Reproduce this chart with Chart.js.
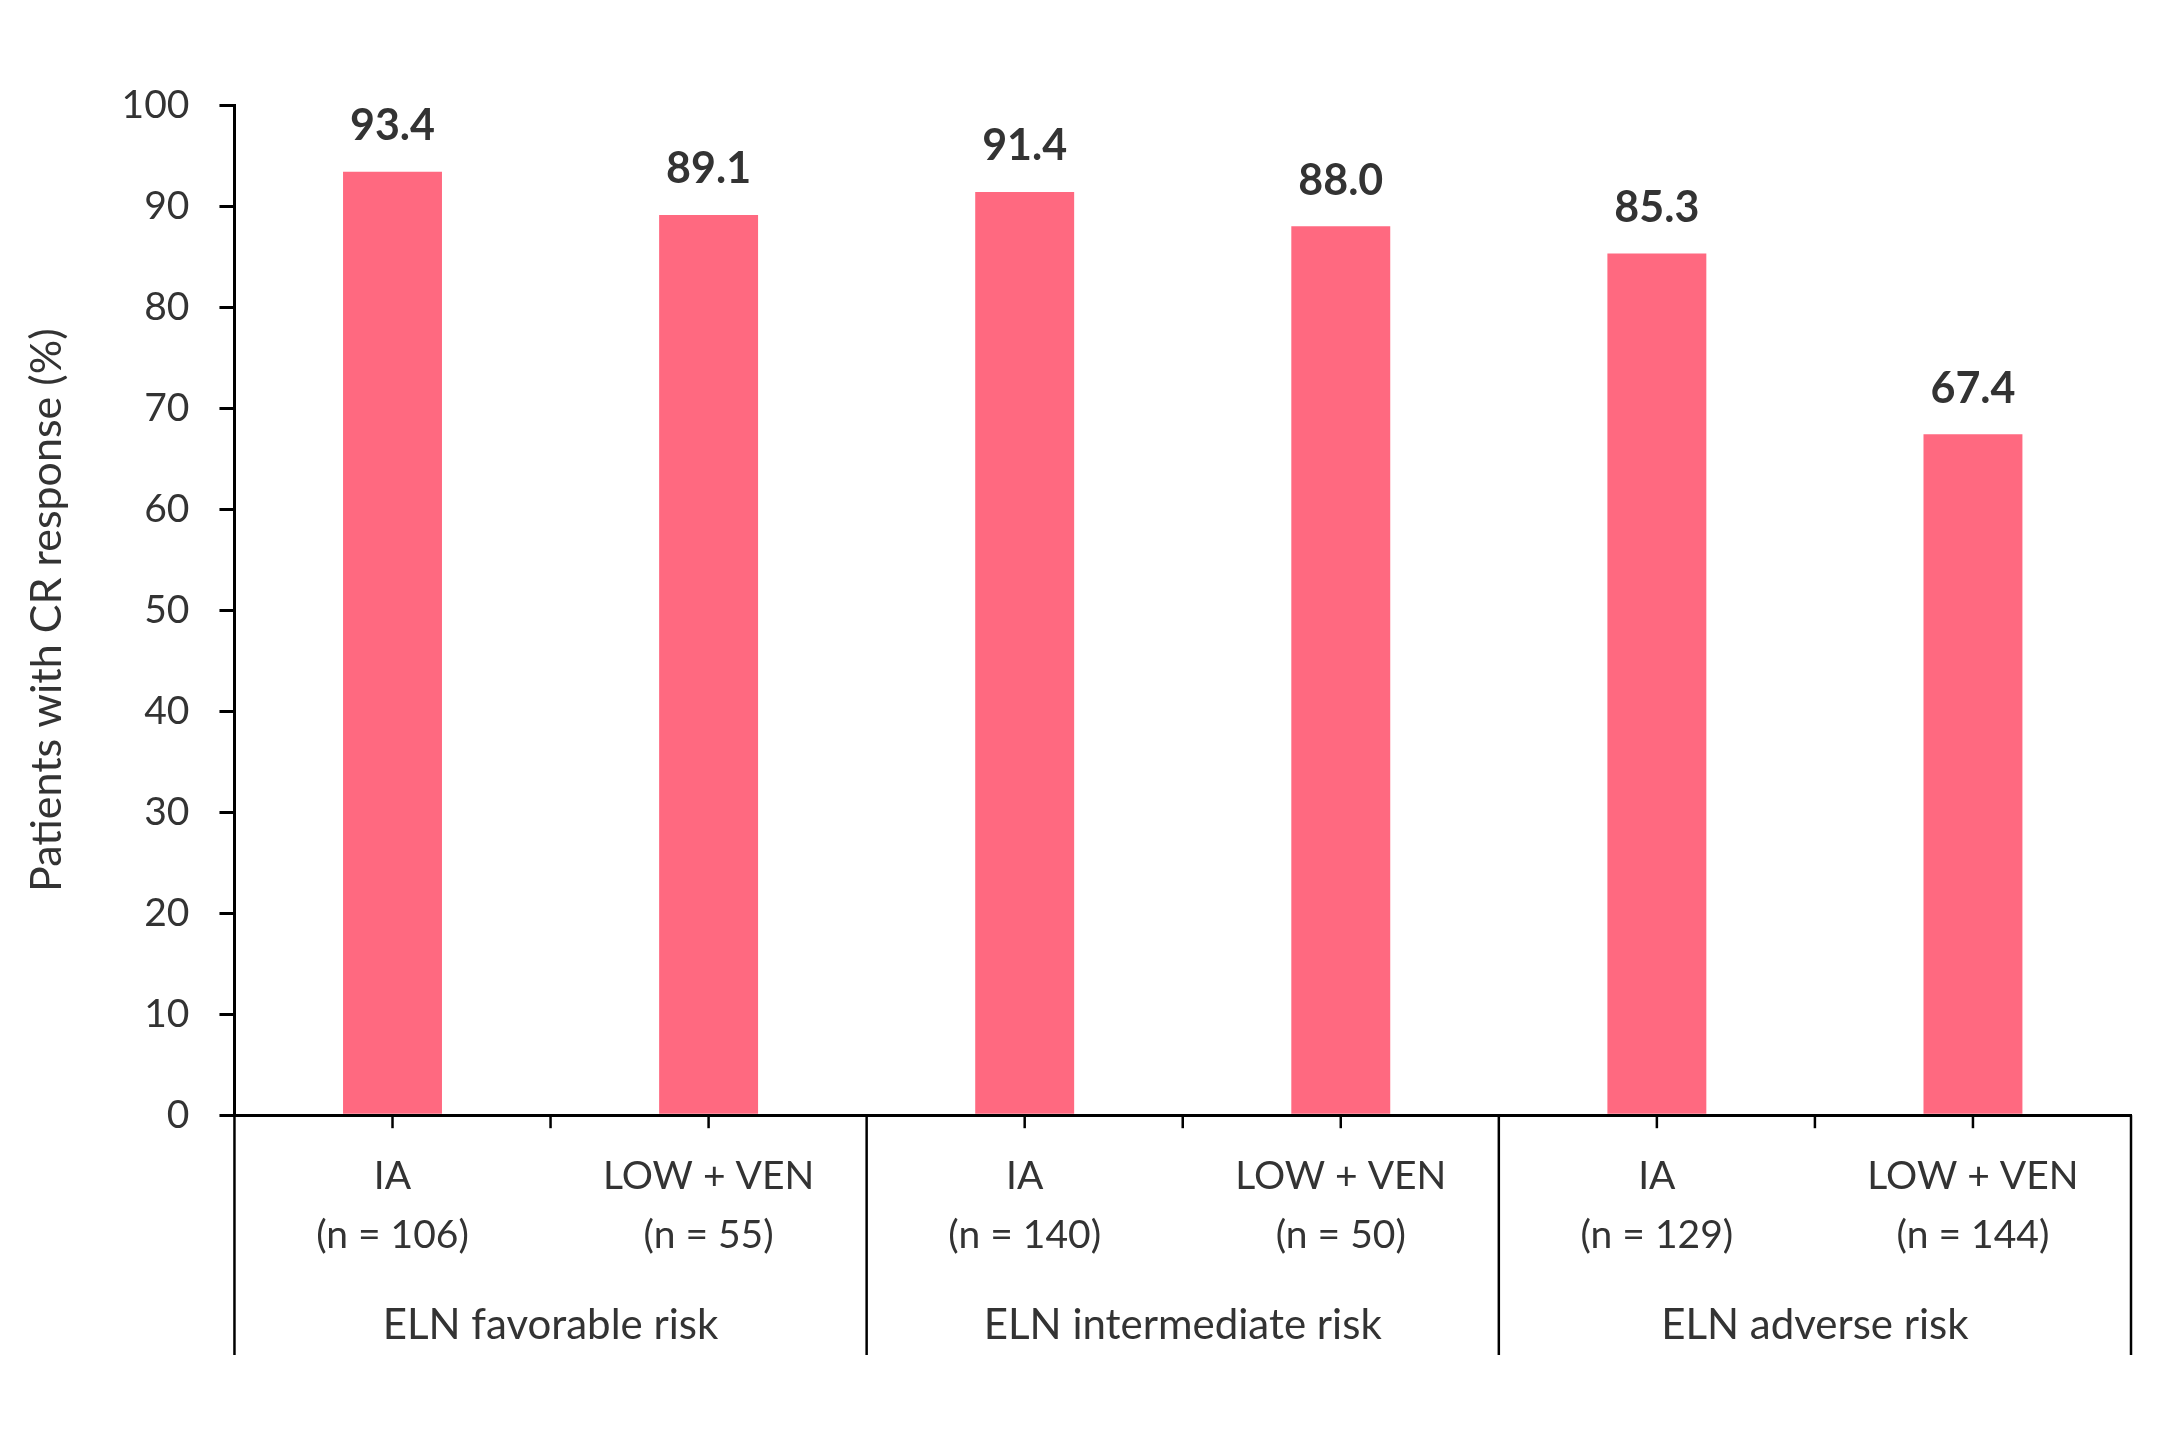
<!DOCTYPE html>
<html>
<head>
<meta charset="utf-8">
<script src="https://cdn.jsdelivr.net/npm/chart.js@4.4.1/dist/chart.umd.min.js"></script>
<style>
  html, body { margin: 0; padding: 0; background: #fff; }
  #wrap { width: 2183px; height: 1429px; }
</style>
</head>
<body>
<div id="wrap"><canvas id="crChart"></canvas></div>
<script>
const categories = [
  ["IA", "(n = 106)"], ["LOW + VEN", "(n = 55)"],
  ["IA", "(n = 140)"], ["LOW + VEN", "(n = 50)"],
  ["IA", "(n = 129)"], ["LOW + VEN", "(n = 144)"]
];
const groups = ["ELN favorable risk", "ELN intermediate risk", "ELN adverse risk"];
const crValues = [93.4, 89.1, 91.4, 88.0, 85.3, 67.4];
const yTicks = [0, 10, 20, 30, 40, 50, 60, 70, 80, 90, 100];

const textColor = "#333333";
const fontFamily = "Lato, 'Open Sans', sans-serif";

// value labels above bars
const valueLabels = {
  id: "valueLabels",
  afterDatasetsDraw(chart) {
    const { ctx } = chart;
    const meta = chart.getDatasetMeta(0);
    ctx.save();
    ctx.font = "bold 43px " + fontFamily;
    ctx.fillStyle = textColor;
    ctx.textAlign = "center";
    ctx.textBaseline = "bottom";
    meta.data.forEach((bar, i) => {
      ctx.fillText(crValues[i].toFixed(1), bar.x, bar.y - 24);
    });
    ctx.restore();
  }
};

// small ticks under the axis and the boxes around each group
const groupLines = {
  id: "groupLines",
  afterDraw(chart) {
    const { ctx, chartArea, scales } = chart;
    const x = scales.x;
    const bottom = chartArea.bottom;
    const half = (x.getPixelForValue(1) - x.getPixelForValue(0)) / 2;
    const perGroup = categories.length / groups.length;
    const line = (px, y1, y2) => {
      ctx.beginPath();
      ctx.moveTo(px, y1);
      ctx.lineTo(px, y2);
      ctx.stroke();
    };
    ctx.save();
    ctx.strokeStyle = "#000";
    ctx.lineWidth = 2.5;
    categories.forEach((c, i) => {
      line(x.getPixelForValue(i), bottom, bottom + 13);
      if (i % perGroup !== perGroup - 1) {
        line(x.getPixelForValue(i) + half, bottom, bottom + 13);
      }
    });
    for (let g = 0; g <= groups.length; g++) {
      line(x.getPixelForValue(g * perGroup) - half, bottom, scales.x2.bottom);
    }
    ctx.restore();
  }
};

new Chart(document.getElementById("crChart"), {
  type: "bar",
  data: {
    labels: categories,
    datasets: [{
      data: crValues,
      backgroundColor: "#FF6980",
      categoryPercentage: 1,
      barPercentage: 0.313
    }]
  },
  options: {
    responsive: true,
    maintainAspectRatio: false,
    animation: false,
    layout: { padding: { top: 105, right: 52, left: 17, bottom: 74 } },
    plugins: {
      legend: { display: false },
      tooltip: { enabled: false }
    },
    scales: {
      x: {
        position: "bottom",
        grid: { display: false, drawTicks: false },
        border: { color: "#000", width: 3 },
        ticks: {
          color: textColor,
          padding: 32,
          maxRotation: 0,
          autoSkip: false,
          font: { family: fontFamily, size: 39, lineHeight: 1.5 }
        }
      },
      x2: {
        type: "category",
        labels: groups,
        position: "bottom",
        offset: true,
        grid: { display: false, drawTicks: false },
        border: { display: false },
        ticks: {
          color: textColor,
          padding: 0,
          maxRotation: 0,
          font: { family: fontFamily, size: 42, lineHeight: 1.4 }
        }
      },
      y: {
        min: 0,
        max: 100,
        afterBuildTicks: (scale) => {
          scale.ticks = yTicks.map(v => ({ value: v }));
        },
        grid: {
          drawOnChartArea: false,
          drawTicks: true,
          tickLength: 15,
          color: "#000",
          lineWidth: 3
        },
        border: { color: "#000", width: 3 },
        ticks: {
          color: textColor,
          padding: 30,
          font: { family: fontFamily, size: 39 }
        },
        title: {
          display: true,
          text: "Patients with CR response (%)",
          color: textColor,
          padding: { top: 4, bottom: 19 },
          font: { family: fontFamily, size: 43 }
        }
      }
    }
  },
  plugins: [valueLabels, groupLines]
});
</script>
</body>
</html>
